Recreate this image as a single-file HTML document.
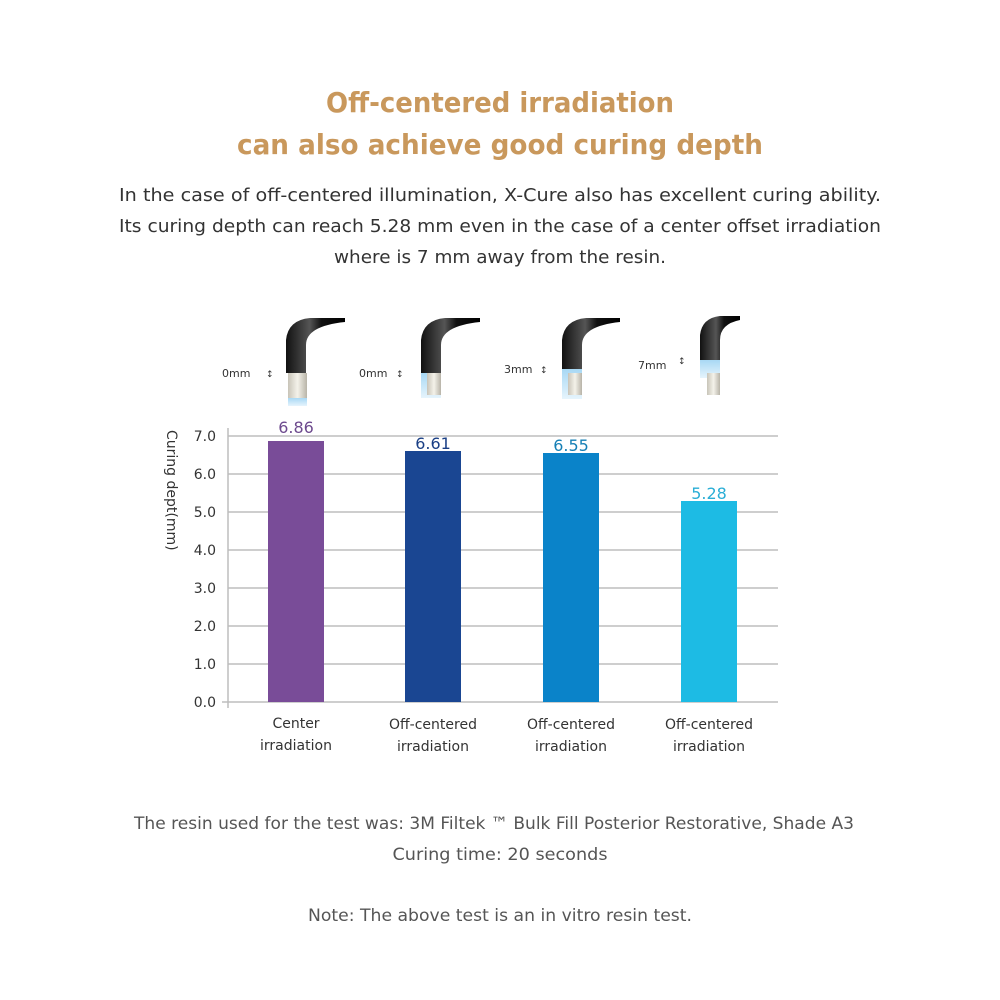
<!DOCTYPE html>
<html><head><meta charset="utf-8"><style>
html,body{margin:0;padding:0;background:#fff;}
svg{display:block;}
</style></head><body>
<svg width="1000" height="1000" viewBox="0 0 1000 1000" xmlns="http://www.w3.org/2000/svg" font-family="DejaVu Sans, Liberation Sans, sans-serif">
<rect width="1000" height="1000" fill="#fff"/>
<g fill="#c9985c" font-weight="bold" font-size="28" text-anchor="middle">
<text x="500" y="112" textLength="348" lengthAdjust="spacingAndGlyphs">Off-centered irradiation</text>
<text x="500" y="154" textLength="526" lengthAdjust="spacingAndGlyphs">can also achieve good curing depth</text>
</g>
<g fill="#333" font-size="18" text-anchor="middle">
<text x="500" y="201" textLength="762" lengthAdjust="spacingAndGlyphs">In the case of off-centered illumination, X-Cure also has excellent curing ability.</text>
<text x="500" y="232" textLength="762" lengthAdjust="spacingAndGlyphs">Its curing depth can reach 5.28 mm even in the case of a center offset irradiation</text>
<text x="500" y="263" textLength="332" lengthAdjust="spacingAndGlyphs">where is 7 mm away from the resin.</text>
</g>
<!-- devices -->
<defs>
<linearGradient id="cab" x1="0" x2="1"><stop offset="0" stop-color="#111"/><stop offset="0.4" stop-color="#555"/><stop offset="0.6" stop-color="#111"/><stop offset="1" stop-color="#000"/></linearGradient>
<linearGradient id="tip" x1="0" x2="1"><stop offset="0" stop-color="#c8c4b8"/><stop offset="0.5" stop-color="#f4f2ea"/><stop offset="1" stop-color="#b8b4a8"/></linearGradient>
<linearGradient id="glow" x1="0" y1="0" x2="0" y2="1"><stop offset="0" stop-color="#a8d8f4"/><stop offset="1" stop-color="#e6f4fc"/></linearGradient>
</defs>
<g font-size="11" fill="#333">
<!-- 1 -->
<path d="M286 373 L286 340 Q288 320 310 318 L345 318 L345 322 Q306 326 306 345 L306 373 Z" fill="url(#cab)"/>
<rect x="288" y="373" width="19" height="25" fill="url(#tip)"/>
<rect x="288" y="398" width="19" height="8" fill="url(#glow)"/>
<text x="222" y="377">0mm</text><text x="266" y="377" font-size="9">↕</text>
<!-- 2 -->
<path d="M421 373 L421 340 Q423 320 445 318 L480 318 L480 322 Q441 326 441 345 L441 373 Z" fill="url(#cab)"/>
<rect x="421" y="373" width="20" height="25" fill="url(#glow)"/>
<rect x="427" y="373" width="14" height="22" fill="url(#tip)"/>
<text x="359" y="377">0mm</text><text x="396" y="377" font-size="9">↕</text>
<!-- 3 -->
<path d="M562 369 L562 340 Q564 320 586 318 L620 318 L620 322 Q582 326 582 345 L582 369 Z" fill="url(#cab)"/>
<rect x="562" y="369" width="20" height="30" fill="url(#glow)"/>
<rect x="568" y="373" width="14" height="22" fill="url(#tip)"/>
<text x="504" y="373">3mm</text><text x="540" y="373" font-size="9">↕</text>
<!-- 4 -->
<path d="M700 360 L700 335 Q702 318 720 316 L740 316 L740 320 Q720 324 720 340 L720 360 Z" fill="url(#cab)"/>
<rect x="700" y="360" width="20" height="18" fill="url(#glow)"/>
<rect x="707" y="373" width="13" height="22" fill="url(#tip)"/>
<text x="638" y="369">7mm</text><text x="678" y="364" font-size="9">↕</text>
</g>
<!-- chart -->
<g stroke="#bdbdbd" stroke-width="1.5">
<line x1="228" y1="436" x2="778" y2="436"/>
<line x1="228" y1="474" x2="778" y2="474"/>
<line x1="228" y1="512" x2="778" y2="512"/>
<line x1="228" y1="550" x2="778" y2="550"/>
<line x1="228" y1="588" x2="778" y2="588"/>
<line x1="228" y1="626" x2="778" y2="626"/>
<line x1="228" y1="664" x2="778" y2="664"/>
<line x1="222" y1="702" x2="778" y2="702"/>
<line x1="228" y1="428" x2="228" y2="708"/>
</g>
<g fill="#333" font-size="14" text-anchor="end">
<text x="216" y="441">7.0</text><text x="216" y="479">6.0</text><text x="216" y="517">5.0</text>
<text x="216" y="555">4.0</text><text x="216" y="593">3.0</text><text x="216" y="631">2.0</text>
<text x="216" y="669">1.0</text><text x="216" y="707">0.0</text>
</g>
<text transform="translate(167,430) rotate(90)" font-size="14" fill="#333">Curing dept(mm)</text>
<rect x="268" y="441" width="56" height="261" fill="#794c98"/>
<rect x="405" y="451" width="56" height="251" fill="#1a4692"/>
<rect x="543" y="453" width="56" height="249" fill="#0a83c9"/>
<rect x="681" y="501" width="56" height="201" fill="#1dbbe4"/>
<g font-size="16" text-anchor="middle">
<text x="296" y="433" fill="#6d4a8e">6.86</text>
<text x="433" y="449" fill="#1a3f85">6.61</text>
<text x="571" y="451" fill="#157fb5">6.55</text>
<text x="709" y="499" fill="#2aaed6">5.28</text>
</g>
<g fill="#333" font-size="14" text-anchor="middle">
<text x="296" y="728">Center</text><text x="296" y="750">irradiation</text>
<text x="433" y="729">Off-centered</text><text x="433" y="751">irradiation</text>
<text x="571" y="729">Off-centered</text><text x="571" y="751">irradiation</text>
<text x="709" y="729">Off-centered</text><text x="709" y="751">irradiation</text>
</g>
<g fill="#555" font-size="17" text-anchor="middle">
<text x="494" y="829" textLength="720" lengthAdjust="spacingAndGlyphs">The resin used for the test was: 3M Filtek ™ Bulk Fill Posterior Restorative, Shade A3</text>
<text x="500" y="860" textLength="215" lengthAdjust="spacingAndGlyphs">Curing time: 20 seconds</text>
<text x="500" y="921" textLength="384" lengthAdjust="spacingAndGlyphs">Note: The above test is an in vitro resin test.</text>
</g>
</svg>
</body></html>
